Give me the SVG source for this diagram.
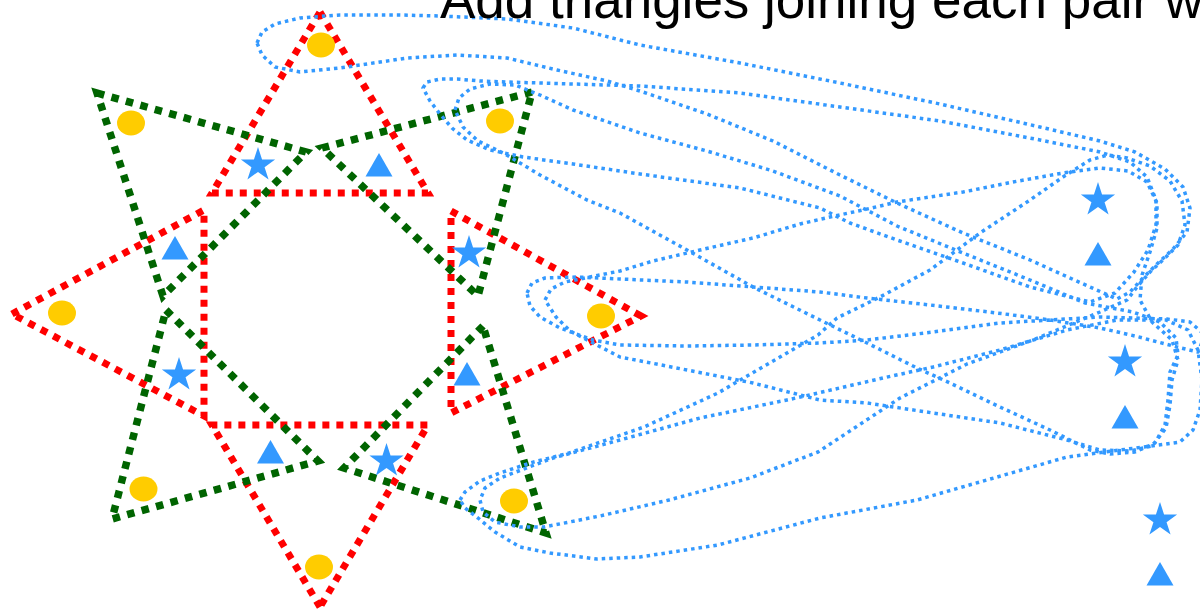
<svg xmlns="http://www.w3.org/2000/svg" xmlns:xlink="http://www.w3.org/1999/xlink" width="1200" height="614" viewBox="0 0 1200 614">
<defs>
<style>
.red{fill:none;stroke:#ff0000;stroke-width:7;stroke-dasharray:7 7;stroke-linejoin:miter}
.grn{fill:none;stroke:#006400;stroke-width:7.5;stroke-dasharray:7.5 7.5;stroke-linejoin:miter}
.loop{fill:none;stroke:#3399ff;stroke-width:3.5;stroke-dasharray:3.5 4;stroke-linejoin:round}
.dot{fill:#ffcc00}
.blue{fill:#3399ff}
.title{font-family:"Liberation Sans",Arial,sans-serif;font-size:53px;fill:#000}
</style>
<polygon id="star" points="0,-18 4.06,-5.58 17.12,-5.56 6.56,2.13 10.58,14.56 0,6.9 -10.58,14.56 -6.56,2.13 -17.12,-5.56 -4.06,-5.58"/>
<polygon id="tri" points="0,-13 13.5,10.5 -13.5,10.5"/>
</defs>
<rect width="1200" height="614" fill="#fff"/>
<g id="red-triangles">
<polygon id="red-top" class="red" points="320,12 428,193 212,193"/>
<polygon id="red-left" class="red" points="12,314 204,210 204,416"/>
<polygon id="red-right" class="red" points="641,316 451,211 451,413"/>
<polygon id="red-bottom" class="red" points="320,607 212,425 428,425"/>
</g>
<g id="green-triangles">
<polygon id="green-tl" class="grn" points="97,93 306,152 163,296"/>
<polygon id="green-tr" class="grn" points="532,92 322,148 478,296"/>
<polygon id="green-bl" class="grn" points="166,310 318,461 112,519"/>
<polygon id="green-br" class="grn" points="483,326 344,468 546,533"/>
</g>
<g id="connectors">
<path id="loop-a" class="loop" d="M257,43 L262,32 L275,24 L300,18 L340,15 L400,15 L440,16 L507,19 L573,28 L640,45 L740,63 L840,83 L940,104 L1040,127 L1100,141 L1135,152 L1165,169 L1183,187 L1190,208 L1187,232 L1173,249 L1157,264 L1142,279 L1130,292 L1117,299 L1090,287 L1030,260 L963,233 L897,203 L840,175 L773,141 L707,114 L640,91 L607,81 L557,70 L507,58 L457,55 L407,58 L340,68 L300,72 L275,67 L262,55 Z"/>
<path id="loop-b" class="loop" d="M423,88 L427,82 L440,79 L457,79 L480,81 L507,82 L573,84 L640,86 L740,93 L840,107 L940,121 L1040,140 L1100,152 L1130,162 L1147,177 L1156,200 L1156,225 L1148,250 L1134,272 L1115,293 L1090,302 L1030,287 L963,263 L897,240 L850,223 L820,208 L740,188 L640,174 L573,164 L523,157 L490,150 L467,140 L452,128 L440,114 L430,101 Z"/>
<path id="loop-c" class="loop" d="M455,110 L459,98 L470,89 L490,84 L515,85 L540,95 L573,110 L640,133 L707,151 L773,171 L840,196 L897,226 L963,253 L1030,280 L1085,303 L1133,312 L1160,322 L1176,338 L1178,355 L1170,372 L1168,400 L1165,425 L1155,443 L1135,452 L1110,454 L1090,450 L1050,430 L1000,407 L950,383 L917,368 L867,343 L820,320 L753,287 L687,250 L620,213 L587,200 L540,175 L505,154 L478,141 L463,127 Z"/>
<path id="loop-d" class="loop" d="M545,300 L551,289 L565,282 L585,278 L620,271 L653,261 L700,250 L753,238 L800,224 L830,217 L863,210 L897,202 L963,192 L1013,182 L1063,173 L1100,168 L1128,171 L1147,182 L1157,203 L1157,228 L1150,252 L1142,275 L1140,300 L1152,322 L1172,340 L1178,360 L1172,380 L1170,405 L1166,428 L1152,446 L1130,451 L1100,450 L1067,440 L1000,423 L933,413 L867,403 L820,400 L753,383 L687,370 L620,357 L593,343 L570,331 L556,317 Z"/>
<path id="loop-e" class="loop" d="M527,293 L532,283 L545,278 L577,277 L620,279 L687,282 L753,287 L820,292 L867,298 L930,305 L997,313 L1050,320 L1100,328 L1135,336 L1177,347 L1198,352 L1205,335 L1190,322 L1167,319 L1100,317 L1000,323 L933,332 L867,340 L820,343 L753,345 L687,346 L620,345 L593,340 L560,328 L540,317 L530,306 Z"/>
<path id="loop-f" class="loop" d="M460,500 L465,492 L480,481 L500,473 L530,463 L569,453 L644,427 L718,393 L780,357 L818,335 L837,318 L880,297 L930,270 L980,233 L1030,200 L1063,177 L1090,160 L1108,155 L1127,158 L1150,166 L1170,181 L1182,201 L1185,225 L1178,245 L1165,258 L1150,272 L1137,287 L1127,300 L1100,312 L1033,340 L967,364 L900,398 L818,452 L750,478 L669,500 L600,516 L544,527 L520,527 L495,522 L483,512 L480,500 L485,488 L500,478 L553,458 L620,440 L700,418 L787,400 L818,393 L883,378 L933,367 L1000,350 L1067,330 L1117,320 L1166,320 L1188,330 L1198,350 L1202,380 L1200,410 L1193,430 L1180,442 L1166,444 L1067,457 L917,500 L820,518 L718,545 L640,557 L597,559 L550,553 L520,547 L495,532 L478,518 L465,508 Z"/>
</g>
<g id="circles">
<ellipse id="c-top" class="dot" cx="321" cy="45" rx="14" ry="12.5"/>
<ellipse id="c-tl" class="dot" cx="131" cy="123" rx="14" ry="12.5"/>
<ellipse id="c-tr" class="dot" cx="500" cy="121" rx="14" ry="12.5"/>
<ellipse id="c-left" class="dot" cx="62" cy="313" rx="14" ry="12.5"/>
<ellipse id="c-right" class="dot" cx="601" cy="316" rx="14" ry="12.5"/>
<ellipse id="c-bl" class="dot" cx="143.5" cy="489" rx="14" ry="12.5"/>
<ellipse id="c-bottom" class="dot" cx="319" cy="567" rx="14" ry="12.5"/>
<ellipse id="c-br" class="dot" cx="514" cy="501" rx="14" ry="12.5"/>
</g>
<g id="stars">
<use id="s1" class="blue" xlink:href="#star" href="#star" transform="translate(258,165)"/>
<use id="s2" class="blue" xlink:href="#star" href="#star" transform="translate(179,375)"/>
<use id="s3" class="blue" xlink:href="#star" href="#star" transform="translate(469,253)"/>
<use id="s4" class="blue" xlink:href="#star" href="#star" transform="translate(386.5,461)"/>
<use id="s5" class="blue" xlink:href="#star" href="#star" transform="translate(1098,200)"/>
<use id="s6" class="blue" xlink:href="#star" href="#star" transform="translate(1125,362)"/>
<use id="s7" class="blue" xlink:href="#star" href="#star" transform="translate(1160,520)"/>
</g>
<g id="triangles">
<use id="t1" class="blue" xlink:href="#tri" href="#tri" transform="translate(379,166)"/>
<use id="t2" class="blue" xlink:href="#tri" href="#tri" transform="translate(175,249)"/>
<use id="t3" class="blue" xlink:href="#tri" href="#tri" transform="translate(467,375)"/>
<use id="t4" class="blue" xlink:href="#tri" href="#tri" transform="translate(270.5,453)"/>
<use id="t5" class="blue" xlink:href="#tri" href="#tri" transform="translate(1098,255)"/>
<use id="t6" class="blue" xlink:href="#tri" href="#tri" transform="translate(1125,418)"/>
<use id="t7" class="blue" xlink:href="#tri" href="#tri" transform="translate(1160,575)"/>
</g>
<text id="title" class="title" x="440" y="18">Add triangles joining each pair w</text>
</svg>
